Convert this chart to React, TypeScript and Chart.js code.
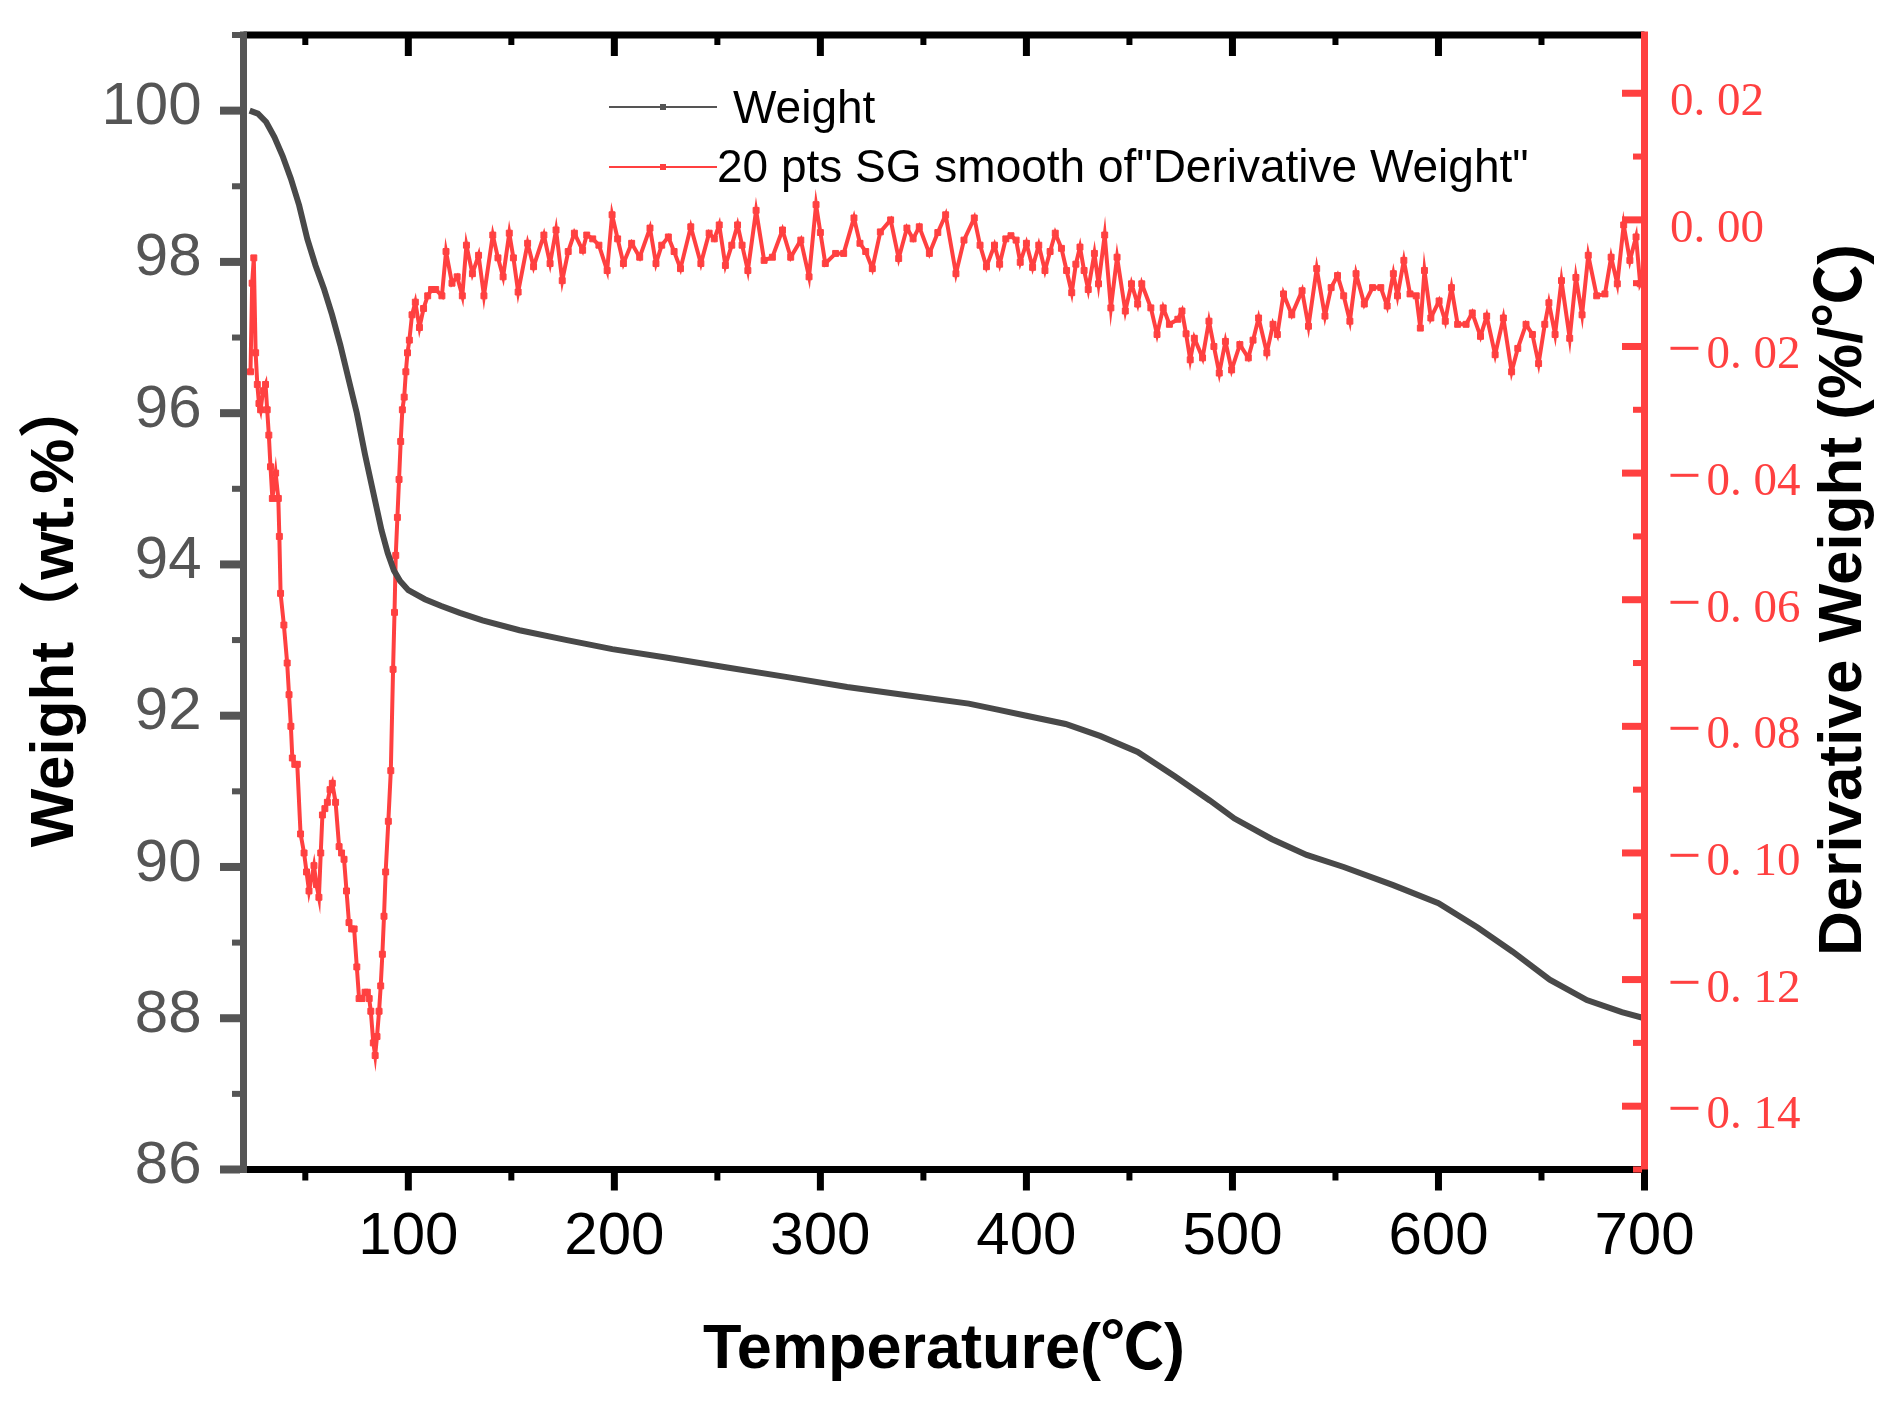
import React, { useEffect, useRef } from 'react'
import { Chart, registerables } from 'chart.js'

Chart.register(...registerables)

const weightTemp = [
	23, 27, 31, 35, 39, 43, 47, 51, 55, 59, 63, 67, 71, 75, 79, 83, 87, 90, 93, 96,
	100, 108, 116, 125, 136, 154, 177, 199, 225, 254, 284, 313, 342, 372, 386, 400,
	419, 436, 454, 472, 489, 501, 519, 536, 554, 578, 600, 619, 636, 654, 672, 689,
	700,
]
const weightValue = [
	100.0, 99.96, 99.85, 99.65, 99.4, 99.1, 98.75, 98.3, 97.95, 97.65, 97.3, 96.9,
	96.45, 96.0, 95.45, 94.95, 94.45, 94.15, 93.92, 93.78, 93.66, 93.54, 93.45,
	93.36, 93.26, 93.13, 93.0, 92.88, 92.77, 92.64, 92.51, 92.38, 92.27, 92.16,
	92.08, 92.0, 91.89, 91.73, 91.52, 91.2, 90.88, 90.64, 90.37, 90.16, 90.0,
	89.76, 89.52, 89.2, 88.88, 88.51, 88.24, 88.08, 88.0,
]

const derivTemp = [
	23.4, 24.2, 25.0, 25.9, 26.7, 27.5, 28.3, 29.5, 30.7, 31.5, 32.3, 33.1, 34.0,
	34.8, 35.6, 36.9, 37.4, 38.0, 39.6, 41.2, 42.1, 43.0, 43.7, 44.9, 46.1, 47.7,
	49.4, 50.6, 51.8, 53.0, 54.2, 55.4, 56.6, 57.5, 58.3, 59.5, 60.7, 62.0, 63.1,
	64.7, 66.4, 67.6, 68.8, 70.0, 71.2, 72.5, 73.7, 75.0, 76.1, 77.5, 79.0, 80.1,
	81.0, 81.8, 83.0, 83.9, 84.8, 85.8, 86.6, 87.4, 88.2, 89.0, 90.3, 91.5, 92.6,
	93.3, 93.9, 94.7, 95.5, 96.3, 97.1, 98.0, 98.8, 99.6, 100.5, 101.8, 103.4,
	105.4, 107.4, 109.4, 111.3, 113.3, 116.3, 118.3, 121.2, 123.7, 126.2, 128.2,
	131.1, 134.1, 136.7, 141.0, 143.5, 146.0, 149.0, 151.0, 153.3, 157.9, 160.8,
	165.8, 168.8, 171.7, 174.7, 177.6, 180.6, 184.6, 186.6, 189.5, 192.5, 196.5,
	198.9, 201.6, 204.4, 208.4, 212.3, 217.3, 220.2, 223.0, 226.2, 229.0, 232.1,
	237.1, 242.0, 246.0, 248.5, 250.9, 253.9, 257.0, 259.8, 262.0, 264.8, 268.8,
	272.7, 276.7, 281.6, 285.6, 290.5, 294.5, 297.9, 300.0, 302.4, 307.4, 311.3,
	316.3, 319.2, 322.0, 325.2, 329.1, 334.1, 338.0, 342.0, 345.0, 348.0, 352.9,
	357.0, 360.8, 365.8, 369.7, 374.7, 377.5, 380.6, 384.5, 387.0, 390.0, 392.5,
	395.0, 397.0, 400.0, 403.0, 406.0, 409.0, 411.5, 414.0, 417.0, 419.5, 422.0,
	424.0, 426.0, 428.0, 430.0, 433.0, 435.0, 438.0, 441.0, 444.0, 448.0, 451.0,
	454.0, 456.0, 460.4, 463.4, 466.4, 469.4, 473.5, 475.5, 477.5, 479.5, 481.5,
	485.5, 488.6, 491.0, 493.6, 496.6, 499.6, 503.6, 507.7, 510.0, 512.7, 516.7,
	519.7, 521.8, 524.8, 528.8, 533.8, 536.9, 540.9, 544.9, 547.9, 551.0, 554.0,
	557.0, 560.0, 564.0, 568.0, 572.0, 575.1, 578.1, 580.1, 583.2, 586.2, 589.2,
	591.2, 593.2, 596.3, 600.3, 603.3, 606.3, 609.3, 613.4, 616.4, 620.4, 623.4,
	627.5, 631.5, 635.5, 638.5, 642.5, 645.6, 648.6, 651.6, 653.6, 656.6, 659.7,
	663.7, 666.7, 669.7, 672.7, 676.8, 680.8, 683.8, 686.8, 689.9, 692.9, 695.9,
	697.9, 699.5,
]
const derivValue = [
	-0.024, -0.01, -0.006, -0.021, -0.026, -0.029, -0.03, -0.027, -0.026, -0.03,
	-0.034, -0.039, -0.044, -0.042, -0.04, -0.044, -0.05, -0.059, -0.064, -0.07,
	-0.075, -0.08, -0.085, -0.086, -0.086, -0.097, -0.1, -0.103, -0.106, -0.104,
	-0.102, -0.105, -0.107, -0.1, -0.094, -0.093, -0.092, -0.09, -0.089, -0.092,
	-0.099, -0.1, -0.101, -0.106, -0.111, -0.112, -0.112, -0.118, -0.123, -0.123,
	-0.122, -0.122, -0.123, -0.125, -0.13, -0.132, -0.129, -0.125, -0.121, -0.116,
	-0.11, -0.103, -0.095, -0.087, -0.071, -0.062, -0.053, -0.047, -0.041, -0.035,
	-0.03, -0.028, -0.024, -0.021, -0.019, -0.015, -0.013, -0.017, -0.014, -0.012,
	-0.011, -0.011, -0.012, -0.005, -0.01, -0.009, -0.012, -0.004, -0.0085,
	-0.0056, -0.012, -0.0024, -0.006, -0.009, -0.0021, -0.006, -0.0114, -0.0037,
	-0.0074, -0.0024, -0.0069, -0.0016, -0.0096, -0.005, -0.0021, -0.0048,
	-0.0024, -0.003, -0.004, -0.008, 0.0008, -0.003, -0.0069, -0.0037, -0.0059,
	-0.0013, -0.0069, -0.004, -0.0027, -0.005, -0.0077, -0.0011, -0.0069, -0.0021,
	-0.003, -0.0008, -0.0072, -0.004, -0.0008, -0.004, -0.008, 0.0015, -0.0064,
	-0.0059, -0.0016, -0.0059, -0.0032, -0.009, 0.0024, -0.002, -0.0069, -0.0053,
	-0.0053, 0.0003, -0.0037, -0.005, -0.0077, -0.0019, 0.0, -0.0061, -0.0013,
	-0.003, -0.0011, -0.0053, -0.002, 0.0008, -0.0085, -0.0032, 0.0003, -0.004,
	-0.0074, -0.004, -0.007, -0.003, -0.0025, -0.0032, -0.0067, -0.0037, -0.0075,
	-0.004, -0.008, -0.005, -0.0021, -0.0045, -0.008, -0.0115, -0.007, -0.0043,
	-0.008, -0.011, -0.0053, -0.0101, -0.0024, -0.0139, -0.0059, -0.0144, -0.0101,
	-0.0133, -0.0101, -0.0139, -0.0181, -0.0139, -0.0165, -0.0157, -0.0144, -0.018,
	-0.0221, -0.0187, -0.0218, -0.016, -0.02, -0.0242, -0.0192, -0.0237, -0.0197,
	-0.0218, -0.019, -0.0155, -0.021, -0.0165, -0.0181, -0.0117, -0.015, -0.0112,
	-0.0168, -0.0077, -0.0152, -0.0107, -0.0088, -0.012, -0.016, -0.0085, -0.0133,
	-0.0107, -0.0107, -0.0136, -0.0085, -0.012, -0.0064, -0.0117, -0.012, -0.0171,
	-0.008, -0.0155, -0.0128, -0.016, -0.0107, -0.0165, -0.0165, -0.0147, -0.0184,
	-0.0152, -0.0213, -0.0155, -0.024, -0.0203, -0.0165, -0.0181, -0.0227, -0.0165,
	-0.0131, -0.0181, -0.0096, -0.0187, -0.0091, -0.015, -0.0056, -0.012, -0.0117,
	-0.0059, -0.0101, -0.0008, -0.0064, -0.0027, -0.0101, -0.009,
]

const xTicks = [100, 200, 300, 400, 500, 600, 700]
const xMinorTicks = [50, 150, 250, 350, 450, 550, 650]
const weightTicks = [86, 88, 90, 92, 94, 96, 98, 100]
const weightMinorTicks = [87, 89, 91, 93, 95, 97, 99, 101]
const derivTicks = [-0.14, -0.12, -0.1, -0.08, -0.06, -0.04, -0.02, 0, 0.02]
const derivTickLabels = [
	'−0. 14', '−0. 12', '−0. 10', '−0. 08', '−0. 06', '−0. 04', '−0. 02', '0. 00', '0. 02',
]
const derivMinorTicks = [-0.15, -0.13, -0.11, -0.09, -0.07, -0.05, -0.03, -0.01, 0.01]

const W = 1899
const H = 1404
const RED = '#ff4040'
const GRAY = '#555555'
const SANS = '"Liberation Sans", Arial, "Noto Sans CJK SC", sans-serif'
const SERIF = '"Liberation Serif", "Times New Roman", serif'

const axesPlugin = {
	id: 'originAxes',
	afterDatasetsDraw(chart: any) {
		const ctx = chart.ctx as CanvasRenderingContext2D
		const { left, right, top, bottom } = chart.chartArea
		const xs = chart.scales.x
		const yl = chart.scales.y
		const yr = chart.scales.y1
		ctx.save()

		// frame
		ctx.fillStyle = '#000'
		ctx.fillRect(left, top - 3.5, right - left, 7)
		ctx.fillRect(left, bottom - 3.5, right - left, 7)
		ctx.fillStyle = GRAY
		ctx.fillRect(left - 3.5, top - 3.5, 7, bottom - top + 7)
		ctx.fillStyle = RED
		ctx.fillRect(right - 3.5, top - 3.5, 7, bottom - top + 7)

		// x ticks: outside at the bottom, inside at the top
		ctx.fillStyle = '#000'
		xTicks.forEach((t) => {
			const px = xs.getPixelForValue(t)
			ctx.fillRect(px - 3.5, bottom, 7, 21)
			if (t < 700) ctx.fillRect(px - 3.5, top, 7, 21)
		})
		xMinorTicks.forEach((t) => {
			const px = xs.getPixelForValue(t)
			ctx.fillRect(px - 3, bottom, 6, 11)
			ctx.fillRect(px - 3, top, 6, 10)
		})

		// left ticks, outside
		ctx.fillStyle = GRAY
		weightTicks.forEach((t) => {
			const py = yl.getPixelForValue(t)
			ctx.fillRect(left - 23.5, py - 4, 20, 8)
		})
		weightMinorTicks.forEach((t) => {
			const py = yl.getPixelForValue(t)
			ctx.fillRect(left - 11.5, py - 3, 8, 6)
		})

		// right ticks, inside, and their labels
		ctx.fillStyle = RED
		derivTicks.forEach((t) => {
			const py = yr.getPixelForValue(t)
			ctx.fillRect(right - 22.5, py - 3.5, 20, 7)
		})
		derivMinorTicks.forEach((t) => {
			const py = yr.getPixelForValue(t)
			ctx.fillRect(right - 11.5, py - 3, 9, 6)
		})
		ctx.textAlign = 'left'
		ctx.textBaseline = 'alphabetic'
		derivTicks.forEach((t, i) => {
			const py = yr.getPixelForValue(t) + 22
			const lab = derivTickLabels[i]
			if (lab.startsWith('−')) {
				ctx.font = `60px ${SERIF}`
				ctx.fillText('−', right + 23, py)
				ctx.font = `47px ${SERIF}`
				ctx.fillText(lab.slice(1), right + 62, py)
			} else {
				ctx.font = `47px ${SERIF}`
				ctx.fillText(lab, right + 25.5, py)
			}
		})

		// legend
		ctx.lineWidth = 2
		ctx.strokeStyle = GRAY
		ctx.beginPath()
		ctx.moveTo(609, 107)
		ctx.lineTo(717, 107)
		ctx.stroke()
		ctx.fillStyle = GRAY
		ctx.fillRect(660, 104, 6, 6)
		ctx.strokeStyle = RED
		ctx.beginPath()
		ctx.moveTo(609, 167)
		ctx.lineTo(717, 167)
		ctx.stroke()
		ctx.fillStyle = RED
		ctx.fillRect(660, 164, 6, 6)
		ctx.fillStyle = '#000'
		ctx.font = `46px ${SANS}`
		ctx.fillText('Weight', 733, 123)
		ctx.fillText('20 pts SG smooth of"Derivative Weight"', 717, 182)

		// axis titles
		ctx.font = `bold 62px ${SANS}`
		ctx.textAlign = 'center'
		ctx.save()
		ctx.translate(73, 612)
		ctx.rotate(-Math.PI / 2)
		ctx.fillText('Weight（wt.%）', 0, 0)
		ctx.restore()
		ctx.save()
		ctx.translate(1861, 600)
		ctx.rotate(-Math.PI / 2)
		ctx.fillText('Derivative Weight (%/℃)', 0, 0)
		ctx.restore()
		ctx.font = `bold 63px ${SANS}`
		ctx.fillText('Temperature(℃)', 944, 1368)

		ctx.restore()
	},
}

const noPad = (s: any) => {
	s.paddingTop = 0
	s.paddingBottom = 0
	s.paddingLeft = 0
	s.paddingRight = 0
}

export default function App() {
	const canvasRef = useRef<HTMLCanvasElement>(null)

	useEffect(() => {
		if (!canvasRef.current) return
		const chart = new Chart(canvasRef.current, {
			type: 'line',
			data: {
				datasets: [
					{
						label: 'Weight',
						data: weightTemp.map((t, i) => ({ x: t, y: weightValue[i] })),
						yAxisID: 'y',
						borderColor: '#494949',
						borderWidth: 6,
						pointRadius: 0,
						tension: 0,
					},
					{
						label: '20 pts SG smooth of"Derivative Weight"',
						data: derivTemp.map((t, i) => ({ x: t, y: derivValue[i] })),
						yAxisID: 'y1',
						borderColor: RED,
						borderWidth: 4,
						pointStyle: 'rect',
						pointRadius: 4.2,
						pointBackgroundColor: RED,
						pointBorderColor: RED,
						pointBorderWidth: 1,
						tension: 0,
					},
				],
			},
			options: {
				animation: false,
				responsive: false,
				devicePixelRatio: 1,
				layout: { padding: { top: 35, left: 0, right: 0, bottom: 0 } },
				plugins: {
					legend: { display: false },
					tooltip: { enabled: false },
				},
				scales: {
					x: {
						type: 'linear',
						min: 20,
						max: 700,
						grid: { display: false, drawTicks: false },
						border: { display: false },
						afterBuildTicks: (s: any) => {
							s.ticks = xTicks.map((v) => ({ value: v }))
						},
						afterFit: (s: any) => {
							s.height = H - 1169.5
							noPad(s)
						},
						ticks: {
							color: '#000',
							padding: 32,
							maxRotation: 0,
							autoSkip: false,
							font: { family: SANS, size: 60 },
						},
					},
					y: {
						type: 'linear',
						position: 'left',
						min: 86,
						max: 101,
						grid: { display: false, drawTicks: false },
						border: { display: false },
						afterBuildTicks: (s: any) => {
							s.ticks = weightTicks.map((v) => ({ value: v }))
						},
						afterFit: (s: any) => {
							s.width = 243.5
							noPad(s)
						},
						ticks: {
							color: GRAY,
							padding: 42,
							labelOffset: -3,
							font: { family: SANS, size: 60 },
						},
					},
					y1: {
						type: 'linear',
						position: 'right',
						min: -0.15,
						max: 0.0292,
						grid: { display: false, drawTicks: false },
						border: { display: false },
						afterBuildTicks: (s: any) => {
							s.ticks = derivTicks.map((v) => ({ value: v }))
						},
						afterFit: (s: any) => {
							s.width = W - 1644.5
							noPad(s)
						},
						ticks: { display: false },
					},
				},
			},
			plugins: [axesPlugin],
		})
		return () => chart.destroy()
	}, [])

	return (
		<div style={{ position: 'fixed', left: 0, top: 0, width: W, height: H, background: '#fff' }}>
			<canvas ref={canvasRef} width={W} height={H} style={{ display: 'block', width: W, height: H }} />
		</div>
	)
}
